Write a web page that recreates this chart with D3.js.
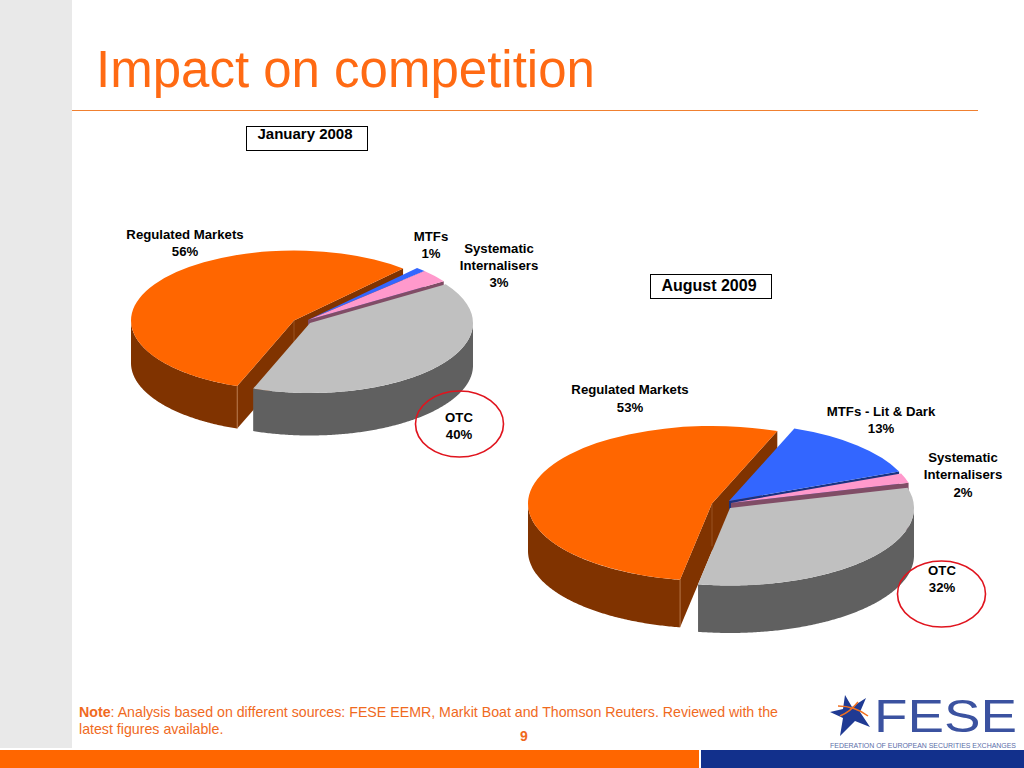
<!DOCTYPE html>
<html><head><meta charset="utf-8">
<script src="https://cdn.jsdelivr.net/npm/d3@7/dist/d3.min.js"></script>
<style>html,body{margin:0;padding:0;background:#fff}svg{display:block}text{font-family:"Liberation Sans",Arial,sans-serif}</style>
</head><body><svg id="c" width="1024" height="768"></svg>
<script>
const categories = ["MTFs","Systematic Internalisers","OTC","Regulated Markets"];
const jan2008 = [1,3,40,56];
const aug2009 = [13,2,32,53];
const titleText = "Impact on competition";
const topColors = ["#3366FF","#FF99CC","#C0C0C0","#FF6600"];
const sideColors = ["#1A3380","#804D66","#606060","#803300"];
const drawOrder = [3,0,1,2];

const svg = d3.select("#c");
const rad = d => d*Math.PI/180;
const ORANGE="#F06A1E", NAVY="#12308C";

svg.append("rect").attr("x",0).attr("y",0).attr("width",72).attr("height",748).attr("fill","#E9E9E9");
svg.append("rect").attr("x",0).attr("y",750).attr("width",699).attr("height",18).attr("fill","#FF6600");
svg.append("rect").attr("x",701).attr("y",750).attr("width",323).attr("height",18).attr("fill",NAVY);
svg.append("line").attr("x1",72).attr("x2",978).attr("y1",110.5).attr("y2",110.5).attr("stroke","#F08030").attr("stroke-width",1);
svg.append("text").attr("x",96).attr("y",87).attr("font-size",51).attr("fill","#FF6A13").text(titleText);

function pie3d(values, cfg){
  const pie = d3.pie().sort(null).value(d=>d).startAngle(rad(cfg.start)).endAngle(rad(cfg.start+360));
  const slices = pie(values);
  const g = svg.append("g");
  const {rx,ry,depth} = cfg;
  const arc = d3.arc().innerRadius(0).outerRadius(rx);
  const line = d3.line();
  drawOrder.forEach(i=>{
    const s = slices[i], [cx,cy] = cfg.centers[i];
    const px = a => cx+rx*Math.sin(a), py = a => cy-ry*Math.cos(a);
    const face = (a,normal)=>{
      if (Math.cos(normal) >= 0) return;
      g.append("path").attr("fill",sideColors[i]).attr("d",line([
        [cx,cy],[px(a),py(a)],[px(a),py(a)+depth],[cx,cy+depth]])+"Z");
    };
    face(s.startAngle,s.startAngle-Math.PI/2);
    face(s.endAngle,s.endAngle+Math.PI/2);
    const visible = [[Math.PI/2,3*Math.PI/2],[Math.PI/2+2*Math.PI,3*Math.PI/2+2*Math.PI]];
    visible.forEach(([lo,hi])=>{
      const a0=Math.max(lo,s.startAngle), a1=Math.min(hi,s.endAngle);
      if(a1<=a0) return;
      const ang=d3.range(a0,a1,0.01).concat([a1]);
      const pts=ang.map(a=>[px(a),py(a)]).concat(ang.slice().reverse().map(a=>[px(a),py(a)+depth]));
      g.append("path").attr("fill",sideColors[i]).attr("d",line(pts)+"Z");
    });
    g.append("path").attr("fill",topColors[i])
      .attr("transform",`translate(${cx},${cy}) scale(1,${ry/rx})`)
      .attr("d",arc(s));
    if(i===3){
      const a=s.startAngle;
      g.append("line").attr("x1",px(a)).attr("x2",px(a)).attr("y1",py(a)).attr("y2",py(a)+depth).attr("stroke","#C98A5A").attr("stroke-width",.7);
      g.append("line").attr("x1",cx).attr("x2",cx).attr("y1",cy).attr("y2",cy+depth*.9).attr("stroke","#B07040").attr("stroke-width",.5);
    }
  });
}

pie3d(jan2008,{start:42,rx:163,ry:70,depth:42.5,centers:[[308,320],[308,320],[310,323],[294,320.5]]});
pie3d(aug2009,{start:20.8,rx:184,ry:77.5,depth:47.5,centers:[[729,501],[731,503],[730,508],[712,503.5]]});

function labels(lines,x,ys,fs){
  lines.forEach((t,i)=>svg.append("text").attr("x",x).attr("y",ys[i]).attr("text-anchor","middle")
    .attr("font-size",fs||13.2).attr("font-weight","bold").attr("fill","#000").text(t));
}
labels([categories[3],jan2008[3]+"%"],185,[239,256]);
labels([categories[0],jan2008[0]+"%"],431,[241,258]);
labels(["Systematic","Internalisers",jan2008[1]+"%"],499,[253,270,287]);
labels([categories[2],jan2008[2]+"%"],459,[422,439]);
labels([categories[3],aug2009[3]+"%"],630,[394,412]);
labels(["MTFs - Lit & Dark",aug2009[0]+"%"],881,[416,433]);
labels(["Systematic","Internalisers",aug2009[1]+"%"],963,[462,479,497]);
labels([categories[2],aug2009[2]+"%"],942,[575,592]);

[[459.5,424],[941.5,594]].forEach(([x,y])=>svg.append("ellipse").attr("cx",x).attr("cy",y).attr("rx",44).attr("ry",33)
  .attr("fill","none").attr("stroke","#E0141E").attr("stroke-width",1.6));

[[246,126,"January 2008",139,15],[650,274,"August 2009",291,16]].forEach(([x,y,t,b,fs])=>{
  svg.append("rect").attr("x",x+.5).attr("y",y+.5).attr("width",121).attr("height",24).attr("fill","#fff").attr("stroke","#000").attr("stroke-width",1);
  svg.append("text").attr("x",x+59).attr("y",b).attr("text-anchor","middle").attr("font-size",fs).attr("font-weight","bold").text(t);
});

const note=svg.append("text").attr("x",79).attr("y",717).attr("font-size",14.2).attr("fill",ORANGE);
note.append("tspan").attr("font-weight","bold").text("Note");
note.append("tspan").text(": Analysis based on different sources: FESE EEMR, Markit Boat and Thomson Reuters. Reviewed with the");
svg.append("text").attr("x",79).attr("y",734).attr("font-size",14.2).attr("fill",ORANGE).text("latest figures available.");
svg.append("text").attr("x",524).attr("y",741).attr("text-anchor","middle").attr("font-size",14).attr("font-weight","bold").attr("fill",ORANGE).text("9");

const logo=svg.append("g");
const starLine=d3.line();
logo.append("path").attr("fill","#1F3A93").attr("d",starLine([[845,695],[852,707],[866,698],[860,712],[870,727],[855,721],[840,736],[843,718],[830,712],[843,709]])+"Z");
logo.append("path").attr("fill","none").attr("stroke","#F07020").attr("stroke-width",1.5).attr("d","M838 706Q855 706 868 716M840 716Q850 712 858 702");
logo.append("text").attr("x",874).attr("y",732).attr("font-size",46).attr("textLength",143).attr("lengthAdjust","spacingAndGlyphs").attr("fill","#3B52A0").text("FESE");
logo.append("text").attr("x",830).attr("y",748).attr("font-size",6.4).attr("textLength",186).attr("lengthAdjust","spacingAndGlyphs").attr("fill","#5A6DA8").text("FEDERATION OF EUROPEAN SECURITIES EXCHANGES");
</script></body></html>
